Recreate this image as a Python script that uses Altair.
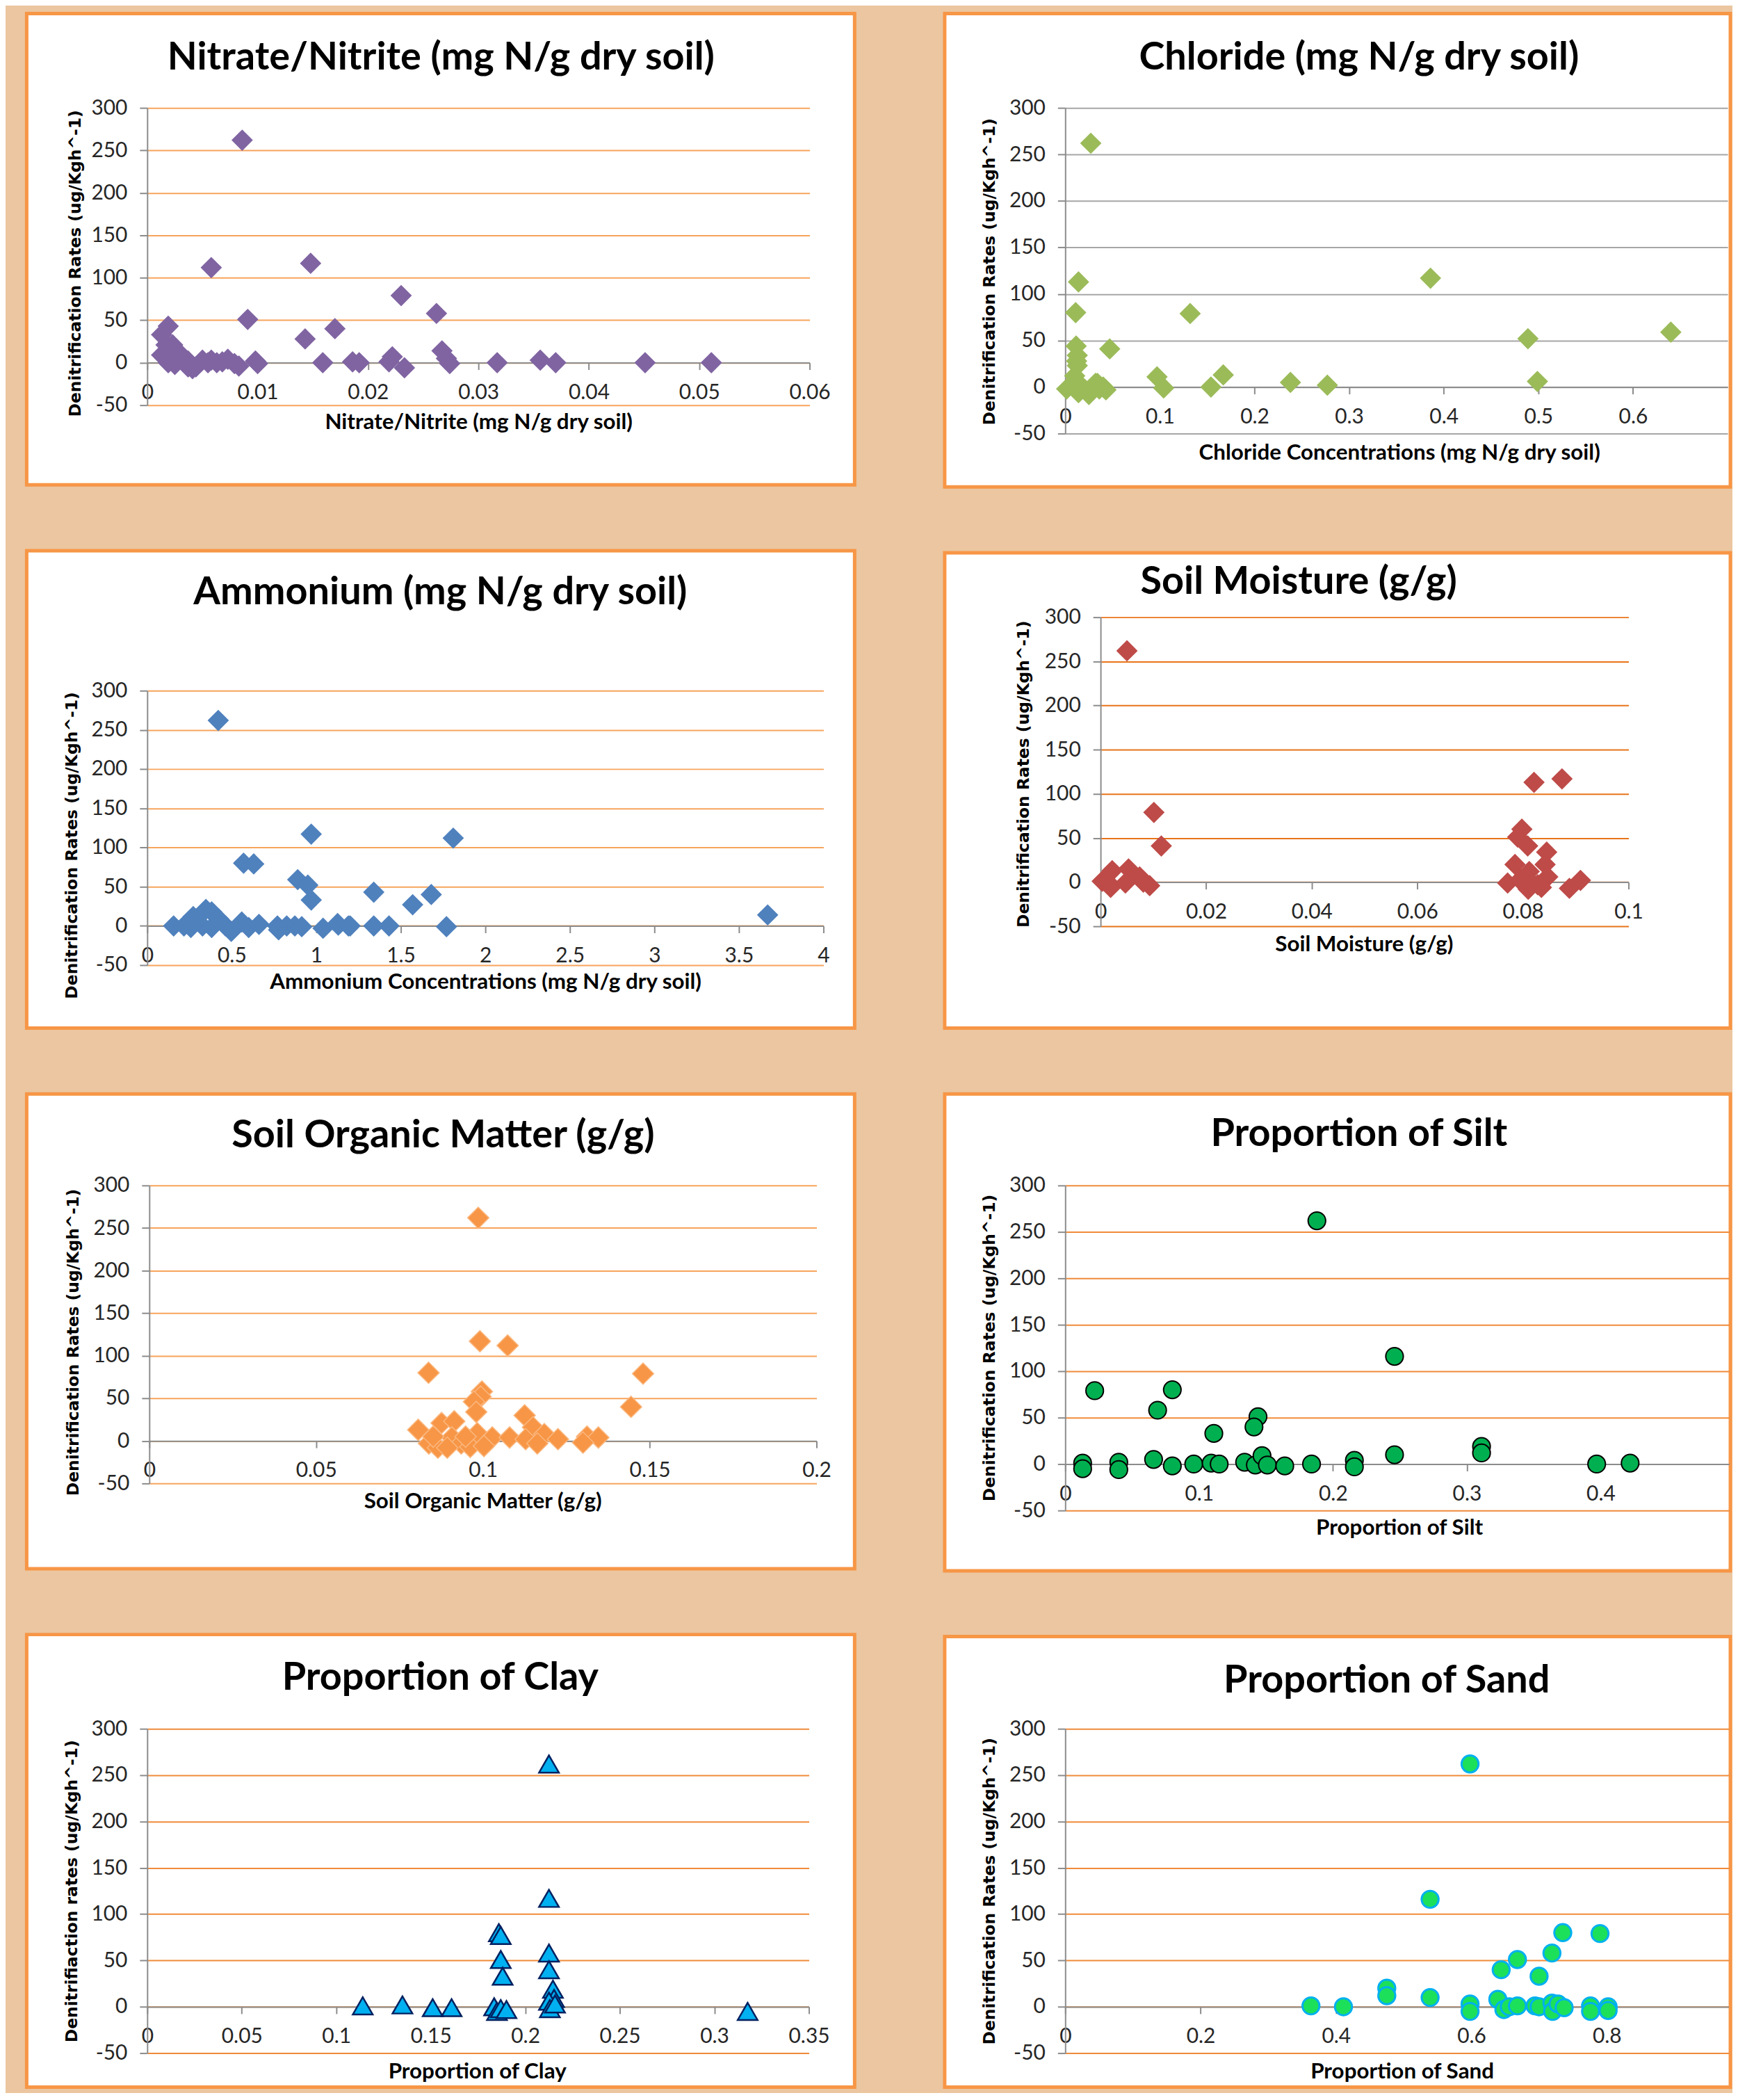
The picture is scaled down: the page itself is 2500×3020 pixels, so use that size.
import altair as alt
import pandas as pd

BG = "#EBC6A0"
BORDER = "#F79646"
AXIS_GRAY = "#8C8C8C"
Y_VALUES = [-50, 0, 50, 100, 150, 200, 250, 300]

# ---------------- data ----------------
nitrate_x = [0.0086, 0.0058, 0.0148, 0.0230, 0.0262, 0.0091, 0.0019, 0.0013, 0.0170, 0.0143,
             0.0267, 0.0271, 0.0274, 0.0159, 0.0186, 0.0192, 0.0219, 0.0222, 0.0233, 0.0317,
             0.0356, 0.0370, 0.0451, 0.0511, 0.0098, 0.0100, 0.0017, 0.0016, 0.0023, 0.0027,
             0.0031, 0.0019, 0.0025, 0.0037, 0.0044, 0.0050, 0.0058, 0.0063, 0.0073, 0.0079,
             0.0083, 0.0037, 0.0013, 0.0055, 0.0068, 0.0034, 0.0041]
nitrate_y = [262, 112, 117, 79, 58, 51, 43, 33, 40, 28,
             14, 5, -1, 0, 1, 0, 1, 7, -6, 0,
             3, 0, 0, 0, 2, -1, 21, 10, 21, 14,
             7, 0, -2, 2, -5, 3, 3, 0, 4, -1,
             -4, -5, 9, 0, 1, 4, -7]

chloride_x = [0.027, 0.014, 0.011, 0.132, 0.386, 0.489, 0.640, 0.499, 0.047, 0.097,
              0.104, 0.154, 0.167, 0.238, 0.277, 0.0115, 0.0127, 0.0127, 0.010, 0.012,
              0.034, 0.0015, 0.021, 0.043, 0.014, 0.025, 0.036, 0.032, 0.008, 0.018,
              0.028, 0.040]
chloride_y = [262, 113, 80, 79, 117, 52, 59, 6, 41, 11,
              -1, 0, 13, 5, 2, 44, 34, 23, 12, 28,
              4, -2, -3, -3, -6, -8, -2, 4, 3, 0,
              -4, 0]

ammonium_x = [0.42, 0.97, 1.81, 0.57, 0.63, 0.89, 0.95, 0.97, 1.34, 1.57,
              1.68, 3.67, 1.77, 1.43, 1.34, 1.19, 1.13, 1.04, 0.156, 0.217,
              0.272, 0.347, 0.381, 0.422, 0.327, 0.258, 0.381, 0.463, 0.497, 0.559,
              0.600, 0.661, 0.770, 0.777, 0.825, 0.873, 0.914, 1.126, 1.20]
ammonium_y = [262, 117, 112, 80, 79, 59, 52, 33, 43, 27,
              40, 14, -1, 0, 0, 0, 1, -3, 0, 0,
              12, 21, 18, 9, 0, -2, -2, 0, -7, 5,
              -2, 2, 0, -5, 0, 0, -1, 3, 0]

moisture_x = [0.0050, 0.0101, 0.0115, 0.0821, 0.0874, 0.0798, 0.0790, 0.0809, 0.0845, 0.0842,
              0.0785, 0.0812, 0.0771, 0.0800, 0.0828, 0.0847, 0.0810, 0.0888, 0.0909, 0.0003,
              0.0022, 0.0019, 0.0053, 0.0047, 0.0074, 0.0093, 0.0012, 0.0081, 0.0795, 0.0835,
              0.0805]
moisture_y = [262, 79, 41, 113, 117, 60, 51, 41, 34, 20,
              20, 12, -1, -1, -3, 6, -8, -7, 2, 1,
              13, -6, 15, -1, 6, -4, 1, 0, 3, -6,
              6]

som_x = [0.0986, 0.0991, 0.1074, 0.0837, 0.148, 0.1444, 0.0997, 0.0993, 0.0973, 0.098,
         0.0806, 0.0876, 0.0914, 0.0838, 0.0907, 0.0935, 0.0983, 0.1028, 0.108, 0.1125,
         0.115, 0.1184, 0.1225, 0.1128, 0.1312, 0.1346, 0.130, 0.0865, 0.0962, 0.0893,
         0.1163, 0.0851, 0.0948, 0.1003]
som_y = [262, 117, 112, 80, 79, 40, 58, 52, 46, 34,
         13, 21, 23, -3, 4, -3, 9, 4, 4, 30,
         16, 8, 2, 2, 5, 4, -2, -8, -7, -8,
         -3, 5, 5, -6]

silt_x = [0.188, 0.246, 0.022, 0.080, 0.069, 0.144, 0.141, 0.111, 0.246, 0.311,
          0.311, 0.013, 0.013, 0.040, 0.040, 0.066, 0.080, 0.096, 0.109, 0.115,
          0.134, 0.142, 0.147, 0.151, 0.164, 0.184, 0.216, 0.216, 0.397, 0.422]
silt_y = [262, 116, 79, 80, 58, 51, 40, 33, 10, 19,
          12, 1, -5, 2, -6, 5, -2, 0, 1, 0,
          2, -1, 9, -1, -2, 0, 4, -3, 0, 1]

clay_x = [0.2125, 0.2125, 0.186, 0.187, 0.187, 0.188, 0.2125, 0.2125, 0.2146, 0.2152,
          0.2125, 0.213, 0.114, 0.135, 0.151, 0.161, 0.1835, 0.185, 0.187, 0.190,
          0.2157, 0.3176]
clay_y = [262, 117, 80, 77, 51, 33, 58, 40, 19, 9,
          6, -2, 1, 2, -1, -1, 0, -5, -2, -3,
          3, -5]

sand_x = [0.598, 0.539, 0.735, 0.790, 0.719, 0.668, 0.644, 0.700, 0.475, 0.475,
          0.539, 0.363, 0.411, 0.598, 0.598, 0.639, 0.648, 0.656, 0.668, 0.694,
          0.700, 0.719, 0.720, 0.728, 0.737, 0.776, 0.776, 0.802, 0.802]
sand_y = [262, 116, 80, 79, 58, 51, 40, 33, 20, 12,
          10, 1, 0, 3, -5, 8, -3, 0, 1, 1,
          0, 4, -5, 3, -1, 1, -5, 0, -4]

Y_TITLE = "Denitrification Rates (ug/Kgh^-1)"


def panel(title, xs, ys, xtitle, ytitle, shape, fill, stroke, stroke_w, size, grid_color,
          W, H, xdomain, xrange, yrange, xvalues, title_pos, xtitle_pos, ytitle_pos):
    df = pd.DataFrame({"x": xs, "y": ys})
    y0 = yrange[0] - (yrange[0] - yrange[1]) * 50 / 350
    xaxis = alt.Axis(
        values=xvalues, labelExpr="'' + datum.value", grid=False,
        offset=y0 - H, domainColor=AXIS_GRAY, domainWidth=2,
        tickColor=AXIS_GRAY, tickWidth=2, tickSize=10,
        labelFont="Lato", labelFontSize=30, labelColor="#262626", labelPadding=18,
        labelFlush=False, labelOverlap=False,
        title=xtitle, titleFont="Lato", titleFontSize=31.5, titleFontWeight="bold",
        titleColor="#000000", titleX=xtitle_pos[0], titleY=xtitle_pos[1] - y0,
        titleAlign="center", titleBaseline="middle",
    )
    yaxis = alt.Axis(
        values=Y_VALUES, labelExpr="'' + datum.value", grid=True,
        gridColor=grid_color, gridWidth=2,
        offset=-xrange[0], domainColor=AXIS_GRAY, domainWidth=2,
        tickColor=AXIS_GRAY, tickWidth=2, tickSize=11,
        labelFont="Lato", labelFontSize=30, labelColor="#262626", labelPadding=18,
        labelOverlap=False,
        title=ytitle, titleFont="DejaVu Sans", titleFontSize=23.5, titleFontWeight="bold",
        titleColor="#000000", titleX=ytitle_pos[0] - xrange[0], titleY=ytitle_pos[1],
        titleAlign="center", titleBaseline="middle", titleAngle=270,
    )
    pts = alt.Chart(df).mark_point(
        shape=shape, filled=True, size=size, opacity=1,
        color=fill, stroke=stroke, strokeWidth=stroke_w,
    ).encode(
        x=alt.X("x:Q", scale=alt.Scale(domain=xdomain, range=xrange, nice=False, zero=False), axis=xaxis),
        y=alt.Y("y:Q", scale=alt.Scale(domain=[-50, 300], range=yrange, nice=False, zero=False), axis=yaxis),
    )
    ttl = alt.Chart(pd.DataFrame({"t": [title]})).mark_text(
        font="Lato", fontSize=56, fontWeight="bold", color="#000000",
        align="center", baseline="middle",
    ).encode(x=alt.value(title_pos[0]), y=alt.value(title_pos[1]), text="t:N")
    return alt.layer(pts, ttl).properties(
        width=W, height=H,
        view=alt.ViewBackground(fill="white", stroke=BORDER, strokeWidth=5),
    )


LW, RW = 1195, 1134
DIAMOND = 950

p1 = panel("Nitrate/Nitrite (mg N/g dry soil)", nitrate_x, nitrate_y,
           "Nitrate/Nitrite (mg N/g dry soil)", Y_TITLE, "diamond", "#8064A2", "#8064A2", 0, DIAMOND,
           "#F7A45C", LW, 680, [0, 0.06], [174, 1130], [565, 136],
           [0, 0.01, 0.02, 0.03, 0.04, 0.05, 0.06], (598, 64), (652, 590), (70, 360))

p2 = panel("Chloride (mg N/g dry soil)", chloride_x, chloride_y,
           "Chloride Concentrations (mg N/g dry soil)", Y_TITLE, "diamond", "#9BBB59", "#9BBB59", 0, DIAMOND,
           "#A6A6A6", RW, 683, [0, 0.7], [174, 1130], [606, 136],
           [0, 0.1, 0.2, 0.3, 0.4, 0.5, 0.6], (598, 64), (656, 634), (65, 372))

p3 = panel("Ammonium (mg N/g dry soil)", ammonium_x, ammonium_y,
           "Ammonium Concentrations (mg N/g dry soil)", Y_TITLE, "diamond", "#4F81BD", "#4F81BD", 0, DIAMOND,
           "#F7A45C", LW, 689, [0, 4], [174, 1150], [598, 202],
           [0, 0.5, 1, 1.5, 2, 2.5, 3, 3.5, 4], (597, 60), (662, 623), (65, 425))

p4 = panel("Soil Moisture (g/g)", moisture_x, moisture_y,
           "Soil Moisture (g/g)", Y_TITLE, "diamond", "#BE4B48", "#BE4B48", 0, DIAMOND,
           "#E8741A", RW, 686, [0, 0.1], [225, 987], [539, 93],
           [0, 0.02, 0.04, 0.06, 0.08, 0.1], (511, 42), (605, 566), (114, 319))

p5 = panel("Soil Organic Matter (g/g)", som_x, som_y,
           "Soil Organic Matter (g/g)", Y_TITLE, "diamond", "#F79646", "#FBB77E", 1.5, DIAMOND,
           "#F7A45C", LW, 685, [0, 0.2], [177, 1140], [562, 132],
           [0, 0.05, 0.1, 0.15, 0.2], (601, 60), (658, 588), (67, 358))

p6 = panel("Proportion of Silt", silt_x, silt_y,
           "Proportion of Silt", Y_TITLE, "circle", "#00B050", "#000000", 2, 640,
           "#F08B3A", RW, 688, [0, 0.496], [174, 1132.3], [601, 132],
           [0, 0.1, 0.2, 0.3, 0.4], (598, 58), (656, 626), (65, 366))

p7 = panel("Proportion of Clay", clay_x, clay_y,
           "Proportion of Clay", "Denitrifiaction rates (ug/Kgh^-1)", "triangle-up", "#00B0F0", "#002060", 2.5, 820,
           "#F08B3A", LW, 653, [0, 0.35], [174, 1129], [604, 136],
           [0, 0.05, 0.1, 0.15, 0.2, 0.25, 0.3, 0.35], (597, 63), (650, 631), (65, 370))

p8 = panel("Proportion of Sand", sand_x, sand_y,
           "Proportion of Sand", Y_TITLE, "circle", "#1DE05A", "#00B0F0", 3, 600,
           "#F08B3A", RW, 650, [0, 0.98], [174, 1131.5], [601, 133],
           [0, 0.2, 0.4, 0.6, 0.8], (638, 64), (660, 628), (65, 367))

left = alt.vconcat(p1, p3, p5, p7, spacing=95, bounds="flush")
right = alt.vconcat(p2, p4, p6, p8, spacing=95, bounds="flush")

chart = alt.hconcat(left, right, spacing=124, bounds="full").properties(
    padding={"left": 27.5, "top": 3.5, "right": 0, "bottom": 0},
    background=BG,
)

chart.save("out.html", embed_options={"renderer": "svg", "actions": False})
